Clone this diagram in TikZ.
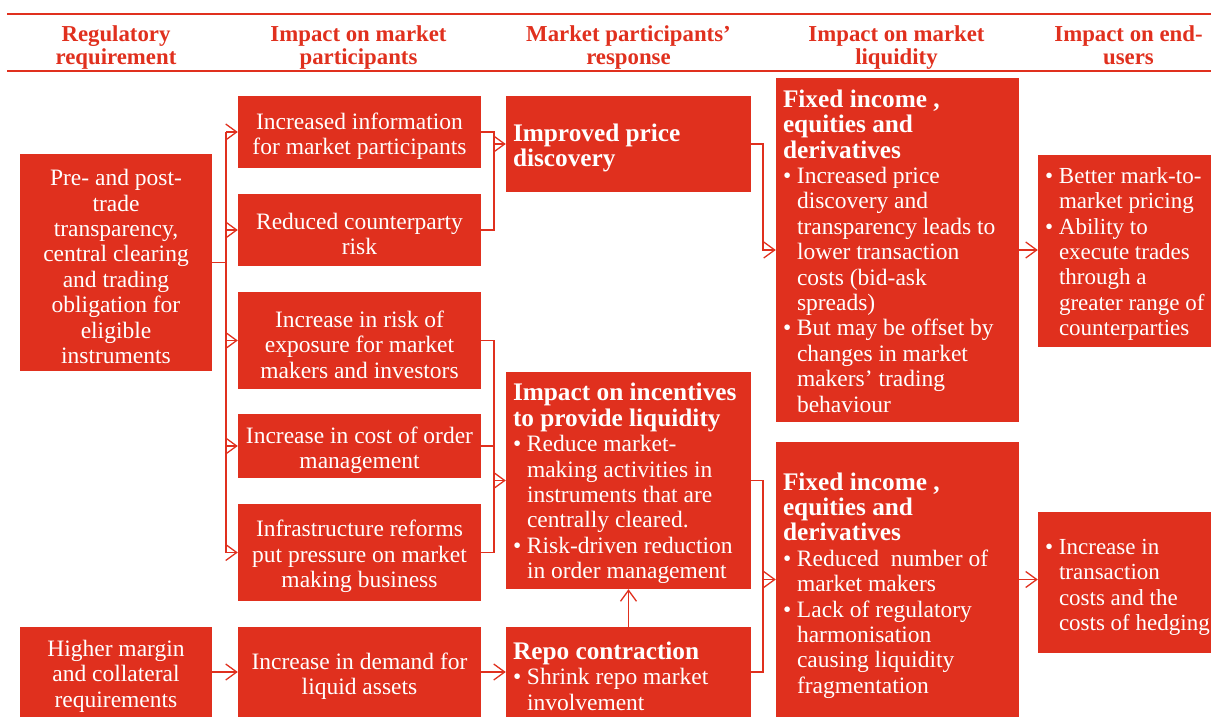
\documentclass[tikz,border=0pt]{standalone}
\usepackage{fontspec}
\setmainfont{Liberation Serif}
\usetikzlibrary{arrows.meta}
\definecolor{pwc}{HTML}{E0301E}
\newcommand\bodyfnt{\fontsize{23.5}{25.4}\selectfont}
\newcommand\smallfnt{\fontsize{23}{25.4}\selectfont}
\newcommand\hdrfnt{\fontsize{22.8}{23}\selectfont\bfseries}
\newcommand\mytitle[1]{{\fontsize{25.3}{25.4}\selectfont\bfseries #1}}
\newcommand\mybul{\makebox[14pt][l]{\textbullet}}
\newcommand\myind{\makebox[14pt]{}}
\begin{document}
\begin{tikzpicture}[x=1pt,y=-1pt,
  box/.style={fill=pwc, draw=none, inner sep=0pt},
  ctxt/.style={inner sep=0pt, text=white, align=center, font=\bodyfnt},
  txt/.style={anchor=west, inner sep=0pt, text=white, align=left, font=\bodyfnt},
  hdr/.style={text=pwc, align=center, font=\hdrfnt, inner sep=0pt, anchor=north},
  ln/.style={draw=pwc, line width=1.3pt},
  arr/.style={ln, -{Straight Barb[length=11pt,width=16pt]}},
  rule/.style={draw=pwc, line width=2pt}
]
\useasboundingbox (0,0) rectangle (1211,717);

% header
\coordinate (rl) at (7,14);
\coordinate (rr) at (1211,14);
\coordinate (sl) at (7,71);
\coordinate (sr) at (1211,71);
\draw[rule] (rl) -- (rr);
\draw[rule] (sl) -- (sr);
\node[hdr] (h1) at (116,25) {Regulatory\\requirement};
\node[hdr] (h2) at (358.5,25) {Impact on market\\participants};
\node[hdr] (h3) at (628.5,25) {Market participants’\\response};
\node[hdr] (h4) at (896.5,25) {Impact on market\\liquidity};
\node[hdr] (h5) at (1128.5,25) {Impact on end-\\users};

% column 1
\node[box, minimum width=192pt, minimum height=217pt] (A) at (116,262.5) {};
\node[ctxt] (At) at ([yshift=-4pt]A.center)
 {Pre- and post-\\trade\\transparency,\\central clearing\\and trading\\obligation for\\eligible\\instruments};
\node[box, minimum width=192pt, minimum height=90pt] (B) at (116,672) {};
\node[ctxt] (Bt) at ([yshift=-4pt]B.center)
 {Higher margin\\and collateral\\requirements};

% column 2
\node[box, minimum width=243pt, minimum height=72pt] (C1) at (359.5,132) {};
\node[ctxt] (C1t) at ([yshift=-4pt]C1.center)
 {Increased information\\for market participants};
\node[box, minimum width=243pt, minimum height=72pt] (C2) at (359.5,230) {};
\node[ctxt] (C2t) at ([yshift=-4pt]C2.center)
 {Reduced counterparty\\risk};
\node[box, minimum width=243pt, minimum height=97pt] (C3) at (359.5,340.5) {};
\node[ctxt] (C3t) at ([yshift=-4pt]C3.center)
 {Increase in risk of\\exposure for market\\makers and investors};
\node[box, minimum width=243pt, minimum height=64pt] (C4) at (359.5,446) {};
\node[ctxt] (C4t) at ([yshift=-4pt]C4.center)
 {Increase in cost of order\\management};
\node[box, minimum width=243pt, minimum height=97pt] (C5) at (359.5,552.5) {};
\node[ctxt] (C5t) at ([yshift=-4pt]C5.center)
 {Infrastructure reforms\\put pressure on market\\making business};
\node[box, minimum width=243pt, minimum height=90pt] (C6) at (359.5,672) {};
\node[ctxt] (C6t) at ([yshift=-4pt]C6.center)
 {Increase in demand for\\liquid assets};

% column 3
\node[box, minimum width=245pt, minimum height=96pt] (D1) at (628.5,144) {};
\node[txt] (D1t) at ([xshift=7pt,yshift=-4pt]D1.west)
 {\mytitle{Improved price}\\\mytitle{discovery}};
\node[box, minimum width=245pt, minimum height=217pt] (D2) at (628.5,480.5) {};
\node[txt] (D2t) at ([xshift=7pt,yshift=-3pt]D2.west)
 {\mytitle{Impact on incentives}\\
  \mytitle{to provide liquidity}\\
  \mybul Reduce market-\\
  \myind making activities in\\
  \myind instruments that are\\
  \myind centrally cleared.\\
  \mybul Risk-driven reduction\\
  \myind in order management};
\node[box, minimum width=245pt, minimum height=90pt] (D3) at (628.5,672) {};
\node[txt] (D3t) at ([xshift=7pt,yshift=-4pt]D3.west)
 {\mytitle{Repo contraction}\\
  \mybul Shrink repo market\\
  \myind involvement};

% column 4
\node[box, minimum width=243pt, minimum height=344pt] (E1) at (897.5,250) {};
\node[txt] (E1t) at ([xshift=7pt,yshift=-1pt]E1.west)
 {\mytitle{Fixed income ,}\\
  \mytitle{equities and}\\
  \mytitle{derivatives}\\
  \mybul Increased price\\
  \myind discovery and\\
  \myind transparency leads to\\
  \myind lower transaction\\
  \myind costs (bid-ask\\
  \myind spreads)\\
  \mybul But may be offset by\\
  \myind changes in market\\
  \myind makers’ trading\\
  \myind behaviour};
\node[box, minimum width=243pt, minimum height=275pt] (E2) at (897.5,579.5) {};
\node[txt] (E2t) at ([xshift=7pt,yshift=-6pt]E2.west)
 {\mytitle{Fixed income ,}\\
  \mytitle{equities and}\\
  \mytitle{derivatives}\\
  \mybul Reduced~ number of\\
  \myind market makers\\
  \mybul Lack of regulatory\\
  \myind harmonisation\\
  \myind causing liquidity\\
  \myind fragmentation};

% column 5
\node[box, minimum width=173pt, minimum height=192pt] (F1) at (1124.5,251) {};
\node[txt, font=\smallfnt] (F1t) at ([xshift=7pt,yshift=-3pt]F1.west)
 {\mybul Better mark-to-\\
  \myind market pricing\\
  \mybul Ability to\\
  \myind execute trades\\
  \myind through a\\
  \myind greater range of\\
  \myind counterparties};
\node[box, minimum width=173pt, minimum height=141pt] (F2) at (1124.5,582.5) {};
\node[txt, font=\smallfnt] (F2t) at ([xshift=7pt,yshift=-5pt]F2.west)
 {\mybul Increase in\\
  \myind transaction\\
  \myind costs and the\\
  \myind costs of hedging};

% connectors
\coordinate (bus) at (226,0);
\coordinate (j1) at (494,0);
\coordinate (j2) at (763,0);

\draw[ln] (A.east) -- (A.east -| bus);
\draw[ln] (C1.west -| bus) -- (C5.west -| bus);
\foreach \n in {C1,C2,C3,C4,C5} \draw[arr] (\n.west -| bus) -- (\n.west);

\draw[ln] (C1.east) -- (C1.east -| j1) -- (C2.east -| j1) -- (C2.east);
\draw[arr] (D1.west -| j1) -- (D1.west);

\draw[arr] (D1.east) -- (D1.east -| j2) -- (E1.west -| j2) -- (E1.west);
\draw[arr] (E1.east) -- (E1.east -| F1.west);

\draw[ln] (C3.east) -- (C3.east -| j1) -- (C5.east -| j1) -- (C5.east);
\draw[ln] (C4.east) -- (C4.east -| j1);
\draw[arr] (D2.west -| j1) -- (D2.west);

\draw[arr] (D3.north) -- (D2.south);

\draw[ln] (D2.east) -- (D2.east -| j2) -- (D3.east -| j2) -- (D3.east);
\draw[arr] (E2.west -| j2) -- (E2.west);
\draw[arr] (E2.east) -- (E2.east -| F2.west);

\draw[arr] (B.east) -- (B.east -| C6.west);
\draw[arr] (C6.east) -- (C6.east -| D3.west);
\end{tikzpicture}
\end{document}
